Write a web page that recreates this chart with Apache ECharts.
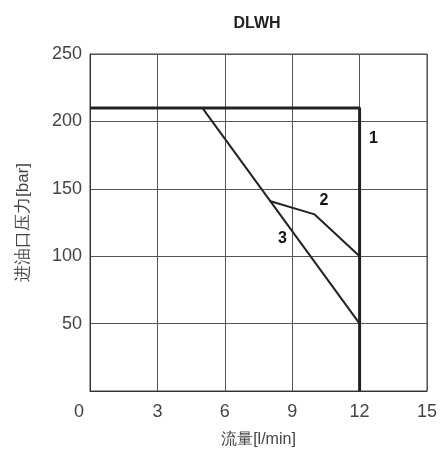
<!DOCTYPE html>
<html><head><meta charset="utf-8">
<script src="https://cdn.jsdelivr.net/npm/echarts@6/dist/echarts.min.js"></script>
<style>html,body{margin:0;padding:0;background:#fff}#c{width:441px;height:454px}</style>
</head><body><div id="c"></div>
<script>
const title = "DLWH";
const xName = "流量[l/min]";
const yName = "进油口压力[bar]";
const curve1 = [[0, 210], [12, 210], [12, 0]];
const curve2 = [[8, 141], [10, 131], [12, 100]];
const curve3 = [[5, 210], [12, 50]];
const curveLabels = [[12.62, 187, "1"], [10.41, 141, "2"], [8.57, 113, "3"]];

const chart = echarts.init(document.getElementById('c'));
const font = "'Liberation Sans', Arial, sans-serif";
chart.setOption({
  animation: false,
  title: { text: title, left: 252, top: 11, textAlign: 'center',
    textStyle: { fontFamily: font, fontSize: 16, fontWeight: 'bold', color: '#222' } },
  grid: { left: 90, right: 14, top: 54, bottom: 63, show: true, borderColor: '#444', borderWidth: 1 },
  xAxis: {
    type: 'value', min: 0, max: 15, interval: 3,
    name: xName, nameLocation: 'middle', nameGap: 41,
    nameTextStyle: { fontFamily: font, fontSize: 16, color: '#444' },
    axisLine: { show: true, lineStyle: { color: '#333', width: 1 } },
    axisTick: { show: false },
    axisLabel: { fontFamily: font, fontSize: 18, color: '#444', margin: 12,
      formatter: v => v === 0 ? '{z|0}' : String(v),
      rich: { z: { fontFamily: font, fontSize: 18, color: '#444', padding: [0, 22, 0, 0] } } },
    splitLine: { show: true, lineStyle: { color: '#555', width: 1 } }
  },
  yAxis: {
    type: 'value', min: 0, max: 250, interval: 50,
    name: yName, nameLocation: 'middle', nameGap: 58, nameRotate: 90,
    nameTextStyle: { fontFamily: font, fontSize: 17, color: '#444' },
    axisLine: { show: true, lineStyle: { color: '#333', width: 1 } },
    axisTick: { show: false },
    axisLabel: { fontFamily: font, fontSize: 18, color: '#444', margin: 8,
      formatter: v => v === 0 ? '' : String(v) },
    splitLine: { show: true, lineStyle: { color: '#555', width: 1 } }
  },
  series: [
    { type: 'line', data: curve1, symbol: 'none', lineStyle: { color: '#222', width: 3 }, z: 5 },
    { type: 'line', data: curve2, symbol: 'none', lineStyle: { color: '#222', width: 2 }, z: 4 },
    { type: 'line', data: curve3, symbol: 'none', lineStyle: { color: '#222', width: 2 }, z: 4 },
    { type: 'scatter', data: curveLabels, symbolSize: 0, itemStyle: { color: '#000', opacity: 1 },
      label: { show: true, position: 'inside', formatter: p => p.data[2], textBorderWidth: 0, opacity: 1,
        fontFamily: font, fontSize: 16, fontWeight: 'bold', color: '#111' } }
  ]
});
</script></body></html>
